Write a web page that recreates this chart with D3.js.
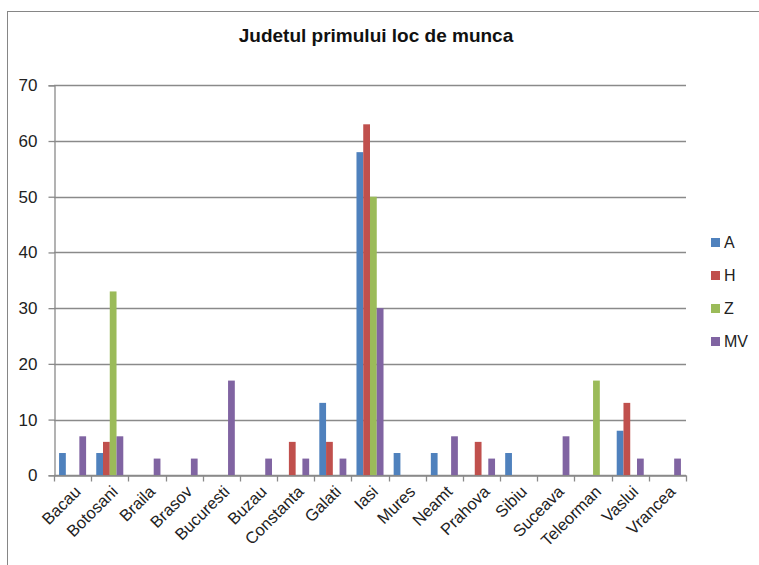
<!DOCTYPE html>
<html><head><meta charset="utf-8">
<script src="https://cdn.jsdelivr.net/npm/d3@7"></script>
<style>body{margin:0;background:#fff;}svg{display:block;}</style>
</head><body>
<svg id="chart" width="759" height="565"></svg>
<script>
const title = "Judetul primului loc de munca";
const categories = ["Bacau","Botosani","Braila","Brasov","Bucuresti","Buzau","Constanta","Galati","Iasi","Mures","Neamt","Prahova","Sibiu","Suceava","Teleorman","Vaslui","Vrancea"];
const seriesNames = ["A","H","Z","MV"];
const seriesColors = ["#4F81BD","#C0504D","#9BBB59","#8064A2"];
const valuesA  = [4,4,0,0,0,0,0,13,58,4,4,0,4,0,0,8,0];
const valuesH  = [0,6,0,0,0,0,6,6,63,0,0,6,0,0,0,13,0];
const valuesZ  = [0,33,0,0,0,0,0,0,50,0,0,0,0,0,17,0,0];
const valuesMV = [7,7,3,3,17,3,3,3,30,0,7,3,0,7,0,3,3];
const yTicks = [0,10,20,30,40,50,60,70];

const seriesValues = [valuesA, valuesH, valuesZ, valuesMV];
const svg = d3.select("#chart");
const font = "'Liberation Sans', Arial, sans-serif";

// outer border
svg.append("rect").attr("x",7.5).attr("y",11.5).attr("width",800).attr("height",600)
  .attr("fill","none").attr("stroke","#868686").attr("stroke-width",1);

const x0 = 54, x1 = 686, yTop = 85.3, yBot = 475.3;
const x = d3.scaleBand().domain(categories).range([x0, x1]).paddingInner(0).paddingOuter(0);
const xs = d3.scaleBand().domain(seriesNames).range([0, x.bandwidth()]).paddingInner(0).paddingOuter(0.75);
const y = d3.scaleLinear().domain([0,70]).range([yBot, yTop]);

// gridlines
svg.append("g").selectAll("line").data(yTicks).join("line")
  .attr("x1", x0).attr("x2", x1)
  .attr("y1", d => Math.round(y(d))+0.5).attr("y2", d => Math.round(y(d))+0.5)
  .attr("stroke","#8a8a8a").attr("stroke-width",1.3);

// y axis
const yAxis = d3.axisLeft(y).tickValues(yTicks).tickSize(6).tickPadding(11);
const gy = svg.append("g").attr("transform",`translate(${x0+0.5},0)`).call(yAxis);
gy.select(".domain").attr("stroke","#8a8a8a").attr("stroke-width",1.3);
gy.selectAll(".tick line").attr("stroke","#8a8a8a").attr("stroke-width",1.3);
gy.selectAll(".tick text").attr("font-family",font).attr("font-size",17).attr("fill","#222");

// bars
const gBars = svg.append("g");
seriesNames.forEach((s, si) => {
  gBars.append("g").selectAll("rect").data(categories.map((c,i)=>({c, v: seriesValues[si][i]})).filter(d=>d.v>0))
    .join("rect")
    .attr("x", d => x(d.c) + xs(s))
    .attr("width", xs.bandwidth())
    .attr("y", d => y(d.v))
    .attr("height", d => y(0) - y(d.v))
    .attr("fill", seriesColors[si]);
});

// x axis
const xAxis = d3.axisBottom(x).tickSize(0).tickFormat("");
const gx = svg.append("g").attr("transform",`translate(0,${Math.round(yBot)+0.5})`).call(xAxis);
gx.select(".domain").attr("stroke","#8a8a8a").attr("stroke-width",1.3);
const boundaries = categories.map(c => x(c)).concat([x1]);
gx.append("g").selectAll("line").data(boundaries).join("line")
  .attr("x1", d => Math.round(d)+0.5).attr("x2", d => Math.round(d)+0.5)
  .attr("y1",0).attr("y2",6).attr("stroke","#8a8a8a").attr("stroke-width",1.3);
gx.append("g").selectAll("text").data(categories).join("text")
  .attr("transform", d => `translate(${x(d)+x.bandwidth()/2+1},${9}) rotate(-45)`)
  .attr("text-anchor","end").attr("dy","0.7em")
  .attr("font-family",font).attr("font-size",16.5).attr("fill","#222")
  .text(d => d);

// title
svg.append("text").attr("x",376).attr("y",42).attr("text-anchor","middle")
  .attr("font-family",font).attr("font-weight","bold").attr("font-size",19).attr("fill","#111")
  .text(title);

// legend
const lg = svg.append("g");
seriesNames.forEach((s,i) => {
  const cy = 242.5 + i*33;
  lg.append("rect").attr("x",711).attr("y",cy-4.5).attr("width",9).attr("height",9).attr("fill",seriesColors[i]);
  lg.append("text").attr("x",724).attr("y",cy).attr("dy","0.36em")
    .attr("font-family",font).attr("font-size",16).attr("fill","#222").text(s);
});
</script>
</body></html>
